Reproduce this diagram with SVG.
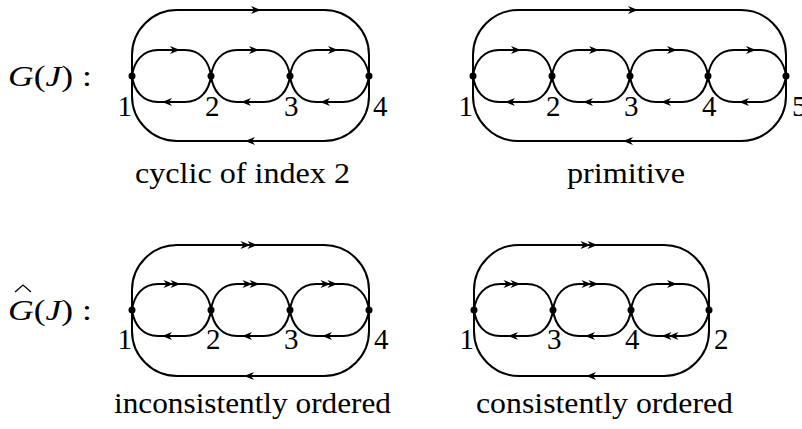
<svg xmlns="http://www.w3.org/2000/svg" xmlns:xlink="http://www.w3.org/1999/xlink" width="802" height="429" viewBox="0 0 802 429">
<style>
.e{fill:none;stroke:#000;stroke-width:2}
.d{fill:#000}
.t{font-family:'Liberation Serif','Times New Roman','DejaVu Serif',serif;font-size:30px;fill:#000}
.n{font-family:'Liberation Serif','Times New Roman','DejaVu Serif',serif;font-size:29px;fill:#000}
.i{font-style:italic}
</style>
<defs>
<path id="ar" d="M0,0 L-10,-4 L-7,0 L-10,4 Z" fill="#000"/>
<g id="ar2"><use xlink:href="#ar" href="#ar" x="3.5"/><use xlink:href="#ar" href="#ar" x="-3.5"/></g>
</defs>
<rect width="802" height="429" fill="#fff"/>

<!-- labels -->
<text class="t" font-family="Liberation Serif, serif" x="8" y="86" textLength="84" lengthAdjust="spacingAndGlyphs"><tspan class="i">G</tspan>(<tspan class="i">J</tspan>) :</text>
<text class="t" font-family="Liberation Serif, serif" x="8" y="320" textLength="84" lengthAdjust="spacingAndGlyphs"><tspan class="i">G</tspan>(<tspan class="i">J</tspan>) :</text>
<path d="M15,292 L23,285 L31,292" fill="none" stroke="#000" stroke-width="1.3"/>
<text class="t" font-family="Liberation Serif, serif" x="135" y="183" textLength="215" lengthAdjust="spacingAndGlyphs">cyclic of index 2</text>
<text class="t" font-family="Liberation Serif, serif" x="567" y="183" textLength="118" lengthAdjust="spacingAndGlyphs">primitive</text>
<text class="t" font-family="Liberation Serif, serif" x="114" y="413" textLength="277" lengthAdjust="spacingAndGlyphs">inconsistently ordered</text>
<text class="t" font-family="Liberation Serif, serif" x="476" y="413" textLength="257" lengthAdjust="spacingAndGlyphs">consistently ordered</text>

<g id="connectors">
 <!-- panel TL -->
 <g id="tl-edges">
  <path class="e" d="M132,76 V55 A45,45 0 0 1 177,10 H324 A45,45 0 0 1 369,55 V96 A45,45 0 0 1 324,141 H177 A45,45 0 0 1 132,96 Z"/>
  <path class="e" d="M132,76 C134,61 143,50 158,50 H185 C200,50 209,61 211,76 C209,91 200,102 185,102 H158 C143,102 134,91 132,76 Z"/>
  <path class="e" d="M211,76 C213,61 222,50 237,50 H264 C279,50 288,61 290,76 C288,91 279,102 264,102 H237 C222,102 213,91 211,76 Z"/>
  <path class="e" d="M290,76 C292,61 301,50 316,50 H343 C358,50 367,61 369,76 C367,91 358,102 343,102 H316 C301,102 292,91 290,76 Z"/>
  <use href="#ar" transform="translate(180,50)"/>
  <use href="#ar" transform="translate(259,50)"/>
  <use href="#ar" transform="translate(338,50)"/>
  <use href="#ar" transform="translate(162,102) scale(-1,1)"/>
  <use href="#ar" transform="translate(241,102) scale(-1,1)"/>
  <use href="#ar" transform="translate(320,102) scale(-1,1)"/>
  <use href="#ar" transform="translate(261,10)"/>
  <use href="#ar" transform="translate(245,141) scale(-1,1)"/>
 </g>
 <!-- panel TR -->
 <g id="tr-edges">
  <path class="e" d="M473,76 V55 A45,45 0 0 1 518,10 H741 A45,45 0 0 1 786,55 V96 A45,45 0 0 1 741,141 H518 A45,45 0 0 1 473,96 Z"/>
  <path class="e" d="M473,76 C475,61 484,50 499,50 H526 C541,50 550,61 552,76 C550,91 541,102 526,102 H499 C484,102 475,91 473,76 Z"/>
  <path class="e" d="M552,76 C554,61 563,50 578,50 H604 C619,50 628,61 630,76 C628,91 619,102 604,102 H578 C563,102 554,91 552,76 Z"/>
  <path class="e" d="M630,76 C632,61 641,50 656,50 H682 C697,50 706,61 708,76 C706,91 697,102 682,102 H656 C641,102 632,91 630,76 Z"/>
  <path class="e" d="M708,76 C710,61 719,50 734,50 H760 C775,50 784,61 786,76 C784,91 775,102 760,102 H734 C719,102 710,91 708,76 Z"/>
  <use href="#ar" transform="translate(521,50)"/>
  <use href="#ar" transform="translate(599,50)"/>
  <use href="#ar" transform="translate(677,50)"/>
  <use href="#ar" transform="translate(756,50)"/>
  <use href="#ar" transform="translate(505,102) scale(-1,1)"/>
  <use href="#ar" transform="translate(583,102) scale(-1,1)"/>
  <use href="#ar" transform="translate(661,102) scale(-1,1)"/>
  <use href="#ar" transform="translate(739,102) scale(-1,1)"/>
  <use href="#ar" transform="translate(638,10)"/>
  <use href="#ar" transform="translate(623,141) scale(-1,1)"/>
 </g>
 <!-- panel BL -->
 <g id="bl-edges">
  <path class="e" d="M132,310 V290 A45,45 0 0 1 177,245 H324 A45,45 0 0 1 369,290 V331 A45,45 0 0 1 324,376 H177 A45,45 0 0 1 132,331 Z"/>
  <path class="e" d="M132,310 C134,295 143,284 158,284 H185 C200,284 209,295 211,310 C209,325 200,336 185,336 H158 C143,336 134,325 132,310 Z"/>
  <path class="e" d="M211,310 C213,295 222,284 237,284 H264 C279,284 288,295 290,310 C288,325 279,336 264,336 H237 C222,336 213,325 211,310 Z"/>
  <path class="e" d="M290,310 C292,295 301,284 316,284 H343 C358,284 367,295 369,310 C367,325 358,336 343,336 H316 C301,336 292,325 290,310 Z"/>
  <use href="#ar2" transform="translate(177,284)"/>
  <use href="#ar2" transform="translate(256,284)"/>
  <use href="#ar2" transform="translate(334,284)"/>
  <use href="#ar" transform="translate(162,336) scale(-1,1)"/>
  <use href="#ar" transform="translate(242,336) scale(-1,1)"/>
  <use href="#ar" transform="translate(322,336) scale(-1,1)"/>
  <use href="#ar2" transform="translate(254,245)"/>
  <use href="#ar" transform="translate(244,376) scale(-1,1)"/>
 </g>
 <!-- panel BR -->
 <g id="br-edges">
  <path class="e" d="M474,310 V290 A45,45 0 0 1 519,245 H664 A45,45 0 0 1 709,290 V331 A45,45 0 0 1 664,376 H519 A45,45 0 0 1 474,331 Z"/>
  <path class="e" d="M474,310 C476,295 485,284 500,284 H527 C542,284 551,295 553,310 C551,325 542,336 527,336 H500 C485,336 476,325 474,310 Z"/>
  <path class="e" d="M553,310 C555,295 564,284 579,284 H605 C620,284 629,295 631,310 C629,325 620,336 605,336 H579 C564,336 555,325 553,310 Z"/>
  <path class="e" d="M631,310 C633,295 642,284 657,284 H683 C698,284 707,295 709,310 C707,325 698,336 683,336 H657 C642,336 633,325 631,310 Z"/>
  <use href="#ar2" transform="translate(517,284)"/>
  <use href="#ar2" transform="translate(595,284)"/>
  <use href="#ar" transform="translate(677,284)"/>
  <use href="#ar" transform="translate(508,336) scale(-1,1)"/>
  <use href="#ar" transform="translate(585,336) scale(-1,1)"/>
  <use href="#ar2" transform="translate(665,336) scale(-1,1)"/>
  <use href="#ar2" transform="translate(594,245)"/>
  <use href="#ar" transform="translate(586,376) scale(-1,1)"/>
 </g>
</g>

<!-- nodes TL -->
<g id="tl-n1"><circle class="d" cx="132" cy="76" r="3.5"/><text class="n" font-family="Liberation Serif, serif" x="132" y="116" text-anchor="end">1</text></g>
<g id="tl-n2"><circle class="d" cx="211" cy="76" r="3.5"/><text class="n" font-family="Liberation Serif, serif" x="205" y="116">2</text></g>
<g id="tl-n3"><circle class="d" cx="290" cy="76" r="3.5"/><text class="n" font-family="Liberation Serif, serif" x="284" y="116">3</text></g>
<g id="tl-n4"><circle class="d" cx="369" cy="76" r="3.5"/><text class="n" font-family="Liberation Serif, serif" x="373" y="116">4</text></g>
<!-- nodes TR -->
<g id="tr-n1"><circle class="d" cx="473" cy="76" r="3.5"/><text class="n" font-family="Liberation Serif, serif" x="473" y="116" text-anchor="end">1</text></g>
<g id="tr-n2"><circle class="d" cx="552" cy="76" r="3.5"/><text class="n" font-family="Liberation Serif, serif" x="546" y="116">2</text></g>
<g id="tr-n3"><circle class="d" cx="630" cy="76" r="3.5"/><text class="n" font-family="Liberation Serif, serif" x="624" y="116">3</text></g>
<g id="tr-n4"><circle class="d" cx="708" cy="76" r="3.5"/><text class="n" font-family="Liberation Serif, serif" x="702" y="116">4</text></g>
<g id="tr-n5"><circle class="d" cx="786" cy="76" r="3.5"/><text class="n" font-family="Liberation Serif, serif" x="792" y="116">5</text></g>
<!-- nodes BL -->
<g id="bl-n1"><circle class="d" cx="132" cy="310" r="3.5"/><text class="n" font-family="Liberation Serif, serif" x="132" y="349" text-anchor="end">1</text></g>
<g id="bl-n2"><circle class="d" cx="211" cy="310" r="3.5"/><text class="n" font-family="Liberation Serif, serif" x="206" y="349">2</text></g>
<g id="bl-n3"><circle class="d" cx="290" cy="310" r="3.5"/><text class="n" font-family="Liberation Serif, serif" x="284" y="349">3</text></g>
<g id="bl-n4"><circle class="d" cx="369" cy="310" r="3.5"/><text class="n" font-family="Liberation Serif, serif" x="374" y="349">4</text></g>
<!-- nodes BR -->
<g id="br-n1"><circle class="d" cx="474" cy="310" r="3.5"/><text class="n" font-family="Liberation Serif, serif" x="474" y="349" text-anchor="end">1</text></g>
<g id="br-n3"><circle class="d" cx="553" cy="310" r="3.5"/><text class="n" font-family="Liberation Serif, serif" x="547" y="349">3</text></g>
<g id="br-n4"><circle class="d" cx="631" cy="310" r="3.5"/><text class="n" font-family="Liberation Serif, serif" x="625" y="349">4</text></g>
<g id="br-n2"><circle class="d" cx="709" cy="310" r="3.5"/><text class="n" font-family="Liberation Serif, serif" x="714" y="349">2</text></g>
</svg>
